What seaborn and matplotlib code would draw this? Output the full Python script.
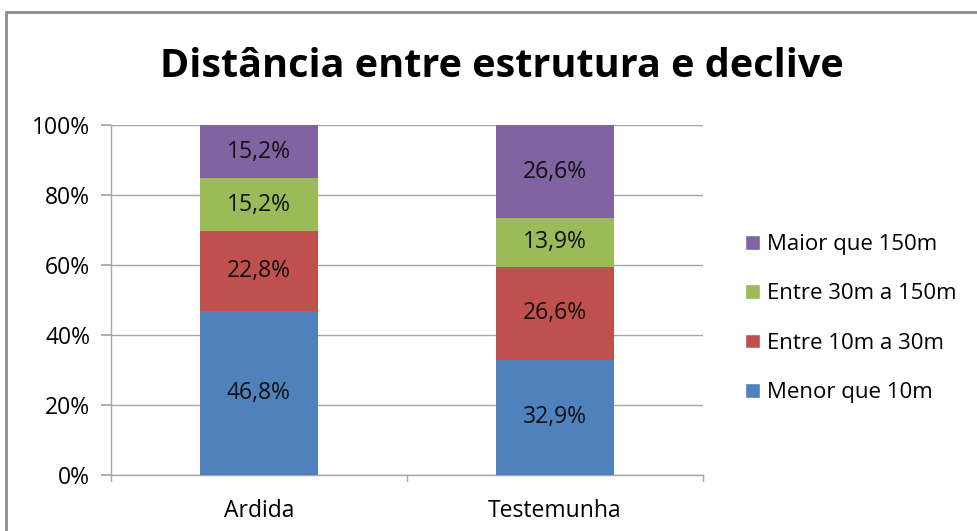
import numpy as np
import pandas as pd
import seaborn as sns
import matplotlib.pyplot as plt
from matplotlib.patches import Rectangle, Patch

# data
categories = ["Ardida", "Testemunha"]
series_names = ["Menor que 10m", "Entre 10m a 30m", "Entre 30m a 150m", "Maior que 150m"]
menor_10 = [46.8, 32.9]
entre_10_30 = [22.8, 26.6]
entre_30_150 = [15.2, 13.9]
maior_150 = [15.2, 26.6]
colors = ["#4F81BD", "#C0504D", "#9BBB59", "#8064A2"]

sns.set_theme(style="white")
plt.rcParams['font.family'] = ['Open Sans', 'DejaVu Sans']
plt.rcParams['text.color'] = 'black'
plt.rcParams['xtick.color'] = 'black'
plt.rcParams['ytick.color'] = 'black'

values = np.array([menor_10, entre_10_30, entre_30_150, maior_150])
cum = np.cumsum(values, axis=0)

fig = plt.figure(figsize=(9.78, 5.31), dpi=100)
ax = fig.add_axes([0.1135, 0.1055, 0.605, 0.659])

# stacked bars: draw cumulative totals from top down
for i in range(len(series_names) - 1, -1, -1):
    df = pd.DataFrame({"cat": categories, "val": cum[i]})
    sns.barplot(data=df, x="cat", y="val", color=colors[i], saturation=1,
                width=0.40, ax=ax, edgecolor="none", linewidth=0, zorder=3)

# value labels
for i in range(len(series_names)):
    for j in range(len(categories)):
        y = cum[i][j] - values[i][j] / 2
        ax.text(j, y, f"{values[i][j]:.1f}%".replace(".", ","), ha="center", va="center",
                fontsize=16.5, color="#111111", zorder=4)

ax.set_ylim(0, 100)
ax.set_xlim(-0.5, 1.5)
ax.set_yticks(np.arange(0, 101, 20))
ax.set_yticklabels([f"{v}%" for v in range(0, 101, 20)], fontsize=16.5)
ax.set_xticks([0, 1])
ax.set_xticklabels(categories, fontsize=16.5)
ax.set_xlabel("")
ax.set_ylabel("")
ax.yaxis.grid(True, color="#a6a6a6", linewidth=1, zorder=0)
ax.set_axisbelow(True)
for s in ["top", "right"]:
    ax.spines[s].set_visible(False)
for s in ["left", "bottom"]:
    ax.spines[s].set_color("#a6a6a6")
    ax.spines[s].set_linewidth(1)
ax.tick_params(axis="y", length=7, color="#a6a6a6", left=True, pad=8)
ax.tick_params(axis="x", length=0, pad=17)
# category separator ticks
for xs in [-0.5, 0.5, 1.5]:
    ax.plot([xs, xs], [0, -1.8], color="#a6a6a6", lw=1, clip_on=False)

fig.suptitle("Distância entre estrutura e declive", fontsize=28.5, fontweight="bold",
             x=0.513, y=0.875, va="center", color="black")

handles = [Patch(facecolor=colors[i], label=series_names[i]) for i in range(3, -1, -1)]
fig.legend(handles=handles, loc="center left", bbox_to_anchor=(0.762, 0.40),
           frameon=False, fontsize=16, handlelength=0.65, handleheight=0.65,
           handletextpad=0.35, labelspacing=1.28, borderaxespad=0, borderpad=0)

fig.add_artist(Rectangle((0.006, -0.1), 1.2, 0.977 + 0.1, transform=fig.transFigure,
                         fill=False, edgecolor="#8c8c8c", linewidth=2))

fig.savefig("out.png", dpi=100)
